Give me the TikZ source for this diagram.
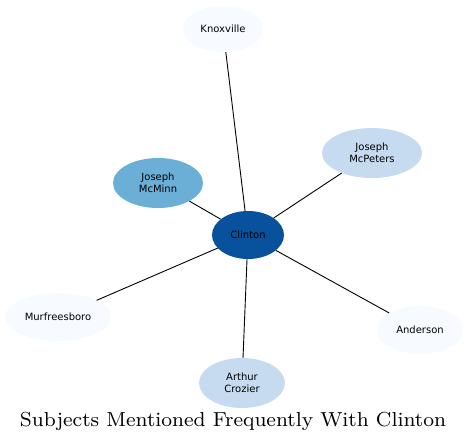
\documentclass[tikz,border=0pt]{standalone}
\usepackage{fontspec}
\usepackage{graphicx}
\newfontfamily\labfont{DejaVu Sans}
\usetikzlibrary{shapes.geometric}
\definecolor{c1}{HTML}{F7FBFF}
\definecolor{c2}{HTML}{C6DBEF}
\definecolor{c3}{HTML}{6BAED6}
\definecolor{c4}{HTML}{08519C}
\tikzset{
  ent/.style={ellipse, draw=none, inner sep=0pt, font=\labfont\fontsize{10}{11.5}\selectfont, align=center},
  link/.style={draw=black, line width=0.9pt}
}
\begin{document}
\begin{tikzpicture}[x=1pt,y=-1pt]
\useasboundingbox (0,0) rectangle (468,444);
\node[ent, fill=c1, minimum width=80, minimum height=46] (kn) at (223,29) {Knoxville};
\node[ent, fill=c2, minimum width=100, minimum height=50] (mp) at (372,153) {Joseph\\McPeters};
\node[ent, fill=c3, minimum width=90, minimum height=50] (mm) at (158,183) {Joseph\\McMinn};
\node[ent, fill=c4, minimum width=72, minimum height=48] (cl) at (248,235) {Clinton};
\node[ent, fill=c1, minimum width=106, minimum height=48] (mu) at (58,317) {Murfreesboro};
\node[ent, fill=c1, minimum width=86, minimum height=48] (an) at (420,330) {Anderson};
\node[ent, fill=c2, minimum width=86, minimum height=50] (ac) at (242,383) {Arthur\\Crozier};
\foreach \t in {kn,mp,mm,mu,an,ac} \draw[link] (cl) -- (\t);
\node[inner sep=0pt] (title) at (233,421) {\resizebox{426pt}{!}{\fontsize{8}{9}\selectfont Subjects Mentioned Frequently With Clinton}};
\end{tikzpicture}
\end{document}
